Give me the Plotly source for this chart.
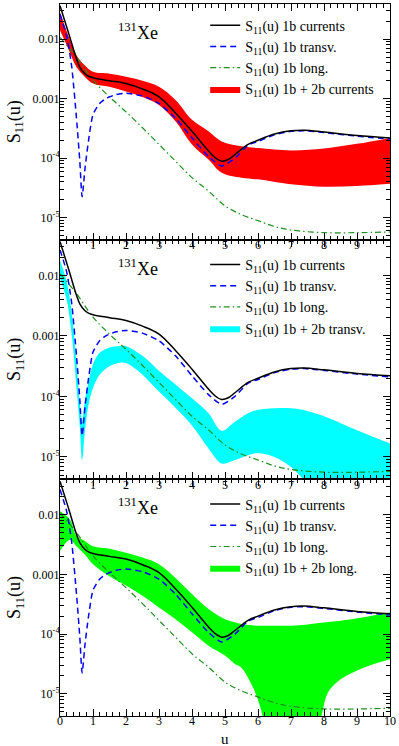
import plotly.graph_objects as go

# ── DATA ───────────────────────────────────────
u_1b = [0, 0.25, 0.5, 0.6, 0.75, 0.85, 1.0, 1.5, 2.0, 2.5, 3.0, 3.5, 4.0, 4.5, 4.7, 4.9, 5.1,
        5.3, 5.7, 6.0, 6.5, 7.0, 7.4, 8.0, 9.0, 10.0]
s_1b = [0.0363, 0.0132, 0.00468, 0.00339, 0.00263, 0.00240, 0.00224, 0.00200, 0.00180, 0.00145,
        0.00107, 5.75e-4, 2.82e-4, 1.32e-4, 1.02e-4, 8.9e-5, 9.5e-5, 1.15e-4, 1.70e-4, 2.00e-4,
        2.54e-4, 2.88e-4, 2.95e-4, 2.75e-4, 2.40e-4, 2.19e-4]

u_tr = [0, 0.2, 0.35, 0.5, 0.6, 0.67, 0.76, 0.86, 1.0, 1.2, 1.4, 1.7, 2.0, 2.5, 3.0, 3.5, 4.0,
        4.5, 4.9, 5.3, 5.7, 6.0, 6.5, 7.0, 7.4, 8.0, 9.0, 10.0]
s_tr = [0.0263, 0.0115, 0.00363, 4.68e-4, 8.9e-5, 2.24e-5, 6.9e-5, 1.9e-4, 5.4e-4, 8.3e-4,
        1.01e-3, 1.17e-3, 1.23e-3, 1.11e-3, 8.3e-4, 4.68e-4, 2.19e-4, 1.07e-4, 7.4e-5, 1.0e-4,
        1.66e-4, 1.9e-4, 2.48e-4, 2.82e-4, 2.88e-4, 2.69e-4, 2.34e-4, 2.09e-4]

u_lo = [0, 0.5, 1.0, 1.5, 2.0, 2.5, 3.0, 3.5, 4.0, 4.5, 5.0, 5.5, 6.0, 6.5, 7.0, 8.0, 9.0, 10.0]
s_lo = [0.0107, 0.0050, 0.00204, 0.00107, 6.0e-4, 3.24e-4, 1.70e-4, 8.9e-5, 4.7e-5, 2.8e-5,
        1.58e-5, 1.12e-5, 8.9e-6, 7.1e-6, 6.2e-6, 5.6e-6, 5.6e-6, 5.75e-6]

# 1b + 2b currents band
u_cur = [0, 0.25, 0.5, 0.75, 1.0, 1.5, 2.0, 2.5, 3.0, 3.5, 4.0, 4.5, 4.9, 5.5, 6.0, 7.0, 8.0, 9.0, 10.0]
cur_hi = [0.0282, 0.0115, 0.00537, 0.00363, 0.00282, 0.00263, 0.00234, 0.0020, 0.00158, 9.5e-4,
          4.4e-4, 2.82e-4, 1.9e-4, 1.58e-4, 1.48e-4, 1.35e-4, 1.45e-4, 1.74e-4, 2.19e-4]
cur_lo = [0.0141, 0.0069, 0.00339, 0.00234, 0.0018, 0.00158, 0.00132, 0.00107, 7.85e-4, 4.17e-4,
          1.70e-4, 9.5e-5, 5.7e-5, 4.7e-5, 4.4e-5, 3.63e-5, 3.3e-5, 3.4e-5, 3.7e-5]

# 1b + 2b transv. band
u_trb = [0, 0.2, 0.35, 0.5, 0.6, 0.67, 0.76, 0.86, 1.0, 1.2, 1.5, 1.8, 2.0, 2.5, 3.0, 3.5, 4.0,
         4.5, 4.9, 5.3, 5.7, 6.0, 6.5, 7.0, 7.35, 8.0, 9.0, 10.0]
trb_hi = [0.0178, 0.00794, 0.00251, 3.55e-4, 7.9e-5, 3.98e-5, 8.9e-5, 1.66e-4, 3.39e-4, 5.25e-4,
          6.46e-4, 6.76e-4, 6.76e-4, 4.68e-4, 2.63e-4, 1.58e-4, 9.3e-5, 5.25e-5, 2.69e-5, 3.8e-5,
          5.25e-5, 6.0e-5, 6.4e-5, 6.4e-5, 6.0e-5, 4.7e-5, 2.75e-5, 1.66e-5]
trb_lo = [0.0089, 0.00398, 0.00112, 1.41e-4, 3.16e-5, 8.9e-6, 2.82e-5, 7.1e-5, 1.38e-4, 2.29e-4,
          3.16e-4, 3.59e-4, 3.55e-4, 2.29e-4, 1.2e-4, 6.5e-5, 3.3e-5, 1.38e-5, 7.8e-6, 8.9e-6,
          1.07e-5, 1.15e-5, 1.0e-5, 6.8e-6, 4.4e-6, 1.6e-6, 1.0e-6, 1.0e-6]

# 1b + 2b long. band
u_lgb = [0, 0.3, 0.5, 0.75, 1.0, 1.5, 2.0, 2.5, 3.0, 3.5, 4.0, 4.5, 5.0, 5.3, 5.5, 5.82, 6.0,
         6.15, 6.5, 7.0, 7.5, 7.93, 8.1, 8.3, 8.6, 9.2, 10.0]
lgb_hi = [0.01135, 0.00832, 0.00437, 0.00363, 0.00295, 0.00269, 0.00229, 0.00191, 0.00148, 8.7e-4,
          4.68e-4, 2.63e-4, 1.78e-4, 1.58e-4, 1.48e-4, 1.41e-4, 1.38e-4, 1.38e-4, 1.38e-4, 1.38e-4,
          1.45e-4, 1.55e-4, 1.58e-4, 1.62e-4, 1.70e-4, 1.91e-4, 2.29e-4]
lgb_lo = [0.00245, 0.0038, 0.00295, 0.00214, 0.00148, 9.3e-4, 6.5e-4, 4.37e-4, 2.79e-4, 1.78e-4,
          1.07e-4, 6.4e-5, 4.37e-5, 3.16e-5, 2.75e-5, 1.38e-5, 7.9e-6, 4.0e-6, 3.2e-7, 1.0e-7,
          3.2e-7, 4.4e-6, 1.0e-5, 1.41e-5, 1.9e-5, 2.75e-5, 3.8e-5]

y_ticks = [1e-2, 1e-3, 1e-4, 1e-5]
y_text = ["0.01", "0.001", "10<sup>-4</sup>", "10<sup>-5</sup>"]

panels = [
    ("S<sub>11</sub>(u) 1b + 2b currents", "#ff0000", u_cur, cur_lo, cur_hi),
    ("S<sub>11</sub>(u) 1b + 2b transv.", "#00ffff", u_trb, trb_lo, trb_hi),
    ("S<sub>11</sub>(u) 1b + 2b long.", "#00ff00", u_lgb, lgb_lo, lgb_hi),
]

FONT = "Liberation Serif"
fig = go.Figure()

for i, (band_name, band_col, ub, lo, hi) in enumerate(panels):
    n = "" if i == 0 else str(i + 1)
    xa, ya, lg = "x" + n, "y" + n, "legend" + n
    fig.add_trace(go.Scatter(x=ub, y=lo, mode="lines", line=dict(width=0, shape="spline"),
                             showlegend=False, xaxis=xa, yaxis=ya, hoverinfo="skip"))
    fig.add_trace(go.Scatter(x=ub, y=hi, mode="lines", line=dict(width=0, shape="spline"),
                             fill="tonexty", fillcolor=band_col, name=band_name,
                             legend=lg, legendrank=4, xaxis=xa, yaxis=ya))
    fig.add_trace(go.Scatter(x=u_lo, y=s_lo, mode="lines", name="S<sub>11</sub>(u) 1b long.",
                             line=dict(color="#1f8f1f", width=1.2, dash="6px,3px,1.5px,3px",
                                       shape="spline"),
                             legend=lg, legendrank=3, xaxis=xa, yaxis=ya))
    fig.add_trace(go.Scatter(x=u_tr, y=s_tr, mode="lines", name="S<sub>11</sub>(u) 1b transv.",
                             line=dict(color="#0000ff", width=1.5, dash="6px,4px", shape="spline",
                                       smoothing=0.6),
                             legend=lg, legendrank=2, xaxis=xa, yaxis=ya))
    fig.add_trace(go.Scatter(x=u_1b, y=s_1b, mode="lines", name="S<sub>11</sub>(u) 1b currents",
                             line=dict(color="black", width=1.5, shape="spline"),
                             legend=lg, legendrank=1, xaxis=xa, yaxis=ya))

axis_common = dict(showline=True, linecolor="black", linewidth=1, mirror="ticks",
                   ticks="inside", ticklen=7, tickcolor="black", showgrid=False,
                   zeroline=False, tickfont=dict(family=FONT, size=12, color="black"))

domains = [[0.669, 1.0], [0.3324, 0.669], [0.0, 0.3324]]
legend_y = [0.992, 0.656, 0.3195]

layout = dict(width=399, height=746, margin=dict(l=60, r=7, t=3, b=30),
              paper_bgcolor="white", plot_bgcolor="white", annotations=[])

for i in range(3):
    n = "" if i == 0 else str(i + 1)
    xt = list(range(0, 11)) if i == 2 else list(range(1, 10))
    layout["xaxis" + n] = dict(axis_common, range=[0, 10], tickvals=xt, anchor="y" + n,
                               ticklabelstandoff=-6,
                               minor=dict(ticks="inside", ticklen=4, dtick=0.2, tickcolor="black"))
    layout["yaxis" + n] = dict(axis_common, type="log", range=[-5.37, -1.41], domain=domains[i],
                               tickvals=y_ticks, ticktext=y_text, anchor="x" + n,
                               ticklabelstandoff=-3,
                               minor=dict(ticks="inside", ticklen=4, dtick="D1", tickcolor="black"))
    layout["legend" + n] = dict(x=0.44, y=legend_y[i], xanchor="left", yanchor="top",
                                bgcolor="rgba(0,0,0,0)", itemwidth=30, tracegroupgap=0,
                                traceorder="normal",
                                font=dict(family=FONT, size=14, color="black"))
    layout["annotations"].append(dict(text="<sup>131</sup>Xe", xref="x" + n + " domain",
                                      yref="y" + n + " domain", x=0.235, y=0.885,
                                      xanchor="center", yanchor="middle", showarrow=False,
                                      font=dict(family=FONT, size=18, color="black")))
    layout["annotations"].append(dict(text="S<sub>11</sub>(u)", xref="paper",
                                      yref="y" + n + " domain", x=-0.135, y=0.5, textangle=-90,
                                      xanchor="center", yanchor="middle", showarrow=False,
                                      font=dict(family=FONT, size=18, color="black")))

layout["annotations"].append(dict(text="u", xref="x3", yref="paper", x=5, y=-0.0325,
                                  xanchor="center", yanchor="middle", showarrow=False,
                                  font=dict(family=FONT, size=15, color="black")))

fig.update_layout(**layout)
fig.write_html("out.html", config={"displayModeBar": False},
               post_script="document.body.style.margin='0';")
